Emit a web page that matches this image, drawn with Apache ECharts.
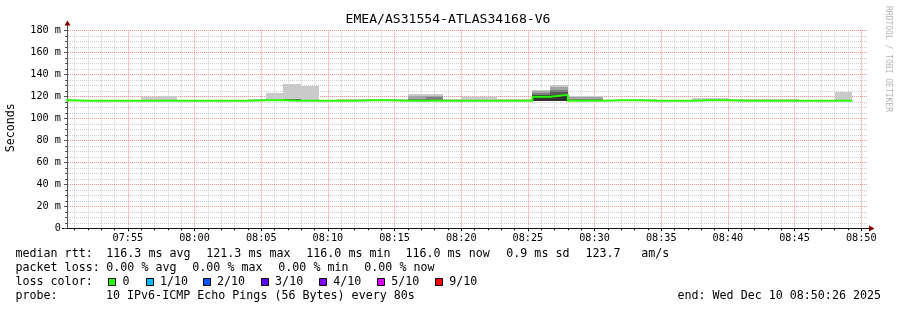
<!DOCTYPE html>
<html><head><meta charset="utf-8">
<script src="https://cdn.jsdelivr.net/npm/echarts@6/dist/echarts.min.js"></script>
<style>html,body{margin:0;padding:0;background:#fff}#c{width:897px;height:310px}</style>
</head><body><div id="c"></div>
<script>
// ---------- data ----------
const chartTitle = 'EMEA/AS31554-ATLAS34168-V6';
const yTicks = [0, 20, 40, 60, 80, 100, 120, 140, 160, 180];
const yTickLabels = ['0', '20 m', '40 m', '60 m', '80 m', '100 m', '120 m', '140 m', '160 m', '180 m'];
const xTickLabels = ['07:55', '08:00', '08:05', '08:10', '08:15', '08:20', '08:25', '08:30', '08:35', '08:40', '08:45', '08:50'];
const graphStart = '2025-12-10T07:50:26Z';
const graphEnd = '2025-12-10T08:50:26Z';
const firstStepStart = '2025-12-10T07:49:20Z';
const stepSeconds = 80;

// per 80 s step (ms)
const median = [116.5,116.0,116.0,116.0,116.0,116.0,116.0,116.0,116.0,116.0,116.0,116.5,116.5,116.0,116.0,116.0,116.0,116.5,116.5,116.0,116.0,116.0,116.0,116.0,116.0,116.0,116.0,119.5,121.3,116.0,116.0,116.5,116.5,116.0,116.0,116.0,116.5,116.5,116.0,116.0,116.0,116.0,116.0,116.0,116.0];
const pingLow = [115.9,115.9,115.9,115.9,115.9,115.9,115.9,115.9,115.9,115.9,115.9,115.9,115.9,115.9,115.9,115.9,115.9,115.9,115.9,115.9,115.9,115.9,115.9,115.9,115.9,115.9,115.9,115.9,115.9,115.9,115.9,115.9,115.9,115.9,115.9,115.9,115.9,115.9,115.9,115.9,115.9,115.9,115.9,115.9,115.9];
const ping10 = [117.5,116.3,116.3,116.3,116.3,119.1,120.3,116.3,116.3,116.3,116.3,117.8,123.3,131.5,129.4,116.3,117.5,118.0,118.0,117.8,122.4,122.4,117.3,119.4,119.4,117.5,117.5,125.7,130.0,120.3,120.3,116.8,116.8,117.5,116.3,116.3,118.2,118.2,117.5,117.5,117.5,117.5,116.3,116.3,123.9];
const ping9 = [116.1,116.1,116.1,116.1,116.1,116.1,116.1,116.1,116.1,116.1,116.1,116.1,116.1,117.9,116.1,116.1,116.1,116.1,116.1,116.1,120.0,120.5,116.1,117.0,117.0,116.1,116.1,124.5,128.5,119.8,119.8,116.1,116.1,116.1,116.1,116.1,116.1,116.1,116.1,116.1,116.1,116.1,116.1,116.1,116.1];
const ping8 = [116.0,116.0,116.0,116.0,116.0,116.0,116.0,116.0,116.0,116.0,116.0,116.0,116.0,117.8,116.0,116.0,116.0,116.0,116.0,116.0,117.5,119.8,116.0,116.0,116.0,116.0,116.0,122.7,126.0,117.5,117.5,116.0,116.0,116.0,116.0,116.0,116.0,116.0,116.0,116.0,116.0,116.0,116.0,116.0,116.0];
const ping7 = [116.0,116.0,116.0,116.0,116.0,116.0,116.0,116.0,116.0,116.0,116.0,116.0,116.0,117.6,116.0,116.0,116.0,116.0,116.0,116.0,116.0,117.0,116.0,116.0,116.0,116.0,116.0,121.5,123.5,116.0,116.0,116.0,116.0,116.0,116.0,116.0,116.0,116.0,116.0,116.0,116.0,116.0,116.0,116.0,116.0];
const ping6 = [116.0,116.0,116.0,116.0,116.0,116.0,116.0,116.0,116.0,116.0,116.0,116.0,116.0,116.5,116.0,116.0,116.0,116.0,116.0,116.0,116.0,116.0,116.0,116.0,116.0,116.0,116.0,120.9,121.6,116.0,116.0,116.0,116.0,116.0,116.0,116.0,116.0,116.0,116.0,116.0,116.0,116.0,116.0,116.0,116.0];

const smokeColors = ['#cacaca', '#a4a4a4', '#7e7e7e', '#585858', '#323232'];
const lossColor = '#26ff00';

// legend texts
const legendRtt = ['median rtt:', '116.3 ms avg', '121.3 ms max', '116.0 ms min', '116.0 ms now', '0.9 ms sd', '123.7', 'am/s'];
const legendLoss = ['packet loss:', '0.00 % avg', '0.00 % max', '0.00 % min', '0.00 % now'];
const lossLabels = ['0', '1/10', '2/10', '3/10', '4/10', '5/10', '9/10'];
const lossColors = ['#26ff00', '#00b8ff', '#0059ff', '#5e00ff', '#7e00ff', '#dd00ff', '#ff0000'];
const probeText = ['probe:', '10 IPv6-ICMP Echo Pings (56 Bytes) every 80s'];
const endText = 'end: Wed Dec 10 08:50:26 2025';
const unitName = 'Seconds';
const watermark = 'RRDTOOL / TOBI OETIKER';

// ---------- build ----------
const MONO = "'DejaVu Sans Mono', monospace";
const tStart = Date.parse(graphStart), tEnd = Date.parse(graphEnd);
const s0 = Date.parse(firstStepStart);
const stepMs = stepSeconds * 1000;
const day = graphEnd.slice(0, 11);
const majorTimes = xTickLabels.map(l => Date.parse(day + l + ':00Z'));
// minor grid positions: every minute / every 5 ms, majors excluded
const minorTimes = [];
for (let t = Math.ceil(tStart / 60000) * 60000; t <= tEnd; t += 60000) {
  if (t % 300000 !== 0) minorTimes.push(t);
}
const minorY = [];
for (let v = 5; v < 180; v += 5) { if (v % 20 !== 0) minorY.push(v); }

const smokeData = median.map((m, i) => [s0 + i * stepMs, s0 + (i + 1) * stepMs, pingLow[i], ping10[i], ping9[i], ping8[i], ping7[i], ping6[i]]);
const medianData = median.map((m, i) => [s0 + i * stepMs, m]);
medianData.push([s0 + median.length * stepMs, median[median.length - 1]]);

// horizontal grid rows: [value, isMajor]
const gridRows = minorY.map(v => [v, 0]).concat(yTicks.filter(v => v > 0).map(v => [v, 1]));

const G = { left: 67, right: 30, top: 30.3, bottom: 81.7 };
const plotRight = 897 - G.right;

const majorColor = 'rgb(255,140,140)';
const minorColor = 'rgb(205,205,205)';

const graphics = [];
function txt(x, y, s, extra) {
  graphics.push({ type: 'text', x: x, y: y, silent: true,
    style: Object.assign({ text: s, font: '11.67px ' + MONO, fill: '#000', textVerticalAlign: 'middle', textAlign: 'left' }, extra || {}) });
}
txt(448, 20, chartTitle, { font: '13.1px ' + MONO, textAlign: 'center' });
const rttX = [15.5, 106.3, 206.3, 306.3, 405.5, 506.3, 585.5, 641.3];
legendRtt.forEach((s, i) => txt(rttX[i], 254.3, s));
const lossX = [15.5, 106.3, 192.3, 278.3, 364.3];
legendLoss.forEach((s, i) => txt(lossX[i], 268.3, s));
txt(15.5, 281.7, 'loss color:');
const boxX = [108.3, 145.7, 202.7, 260.8, 318.9, 376.9, 435.0];
lossLabels.forEach((s, i) => {
  graphics.push({ type: 'rect', silent: true, shape: { x: Math.round(boxX[i]) + 0.5, y: 278.5, width: 7, height: 7 },
    style: { fill: lossColors[i], stroke: '#000', lineWidth: 1 } });
  txt(boxX[i] + 14.3, 281.7, s);
});
txt(15.5, 295.7, probeText[0]);
txt(106.0, 295.7, probeText[1]);
txt(881, 295.7, endText, { textAlign: 'right' });
graphics.push({ type: 'text', x: 11, y: 127.7, rotation: Math.PI / 2, silent: true,
  style: { text: unitName, font: '11.67px ' + MONO, fill: '#000', textAlign: 'center', textVerticalAlign: 'middle' } });
graphics.push({ type: 'text', x: 888, y: 59, rotation: -Math.PI / 2, silent: true,
  style: { text: watermark, font: '8px ' + MONO, fill: '#b4b4b4', textAlign: 'center', textVerticalAlign: 'middle' } });
graphics.push({ type: 'line', silent: true, shape: { x1: 67.5, y1: G.top, x2: 67.5, y2: 24 }, style: { stroke: '#555', lineWidth: 1 } });
graphics.push({ type: 'polygon', silent: true, shape: { points: [[64.5, 25.5], [70.5, 25.5], [67.5, 20.5]] }, style: { fill: '#800000' } });
graphics.push({ type: 'line', silent: true, shape: { x1: 62, y1: 228.5, x2: 67, y2: 228.5 }, style: { stroke: '#111', lineWidth: 1 } });
graphics.push({ type: 'line', silent: true, shape: { x1: plotRight, y1: 228.5, x2: 870, y2: 228.5 }, style: { stroke: '#111', lineWidth: 1 } });
graphics.push({ type: 'polygon', silent: true, shape: { points: [[869, 225.5], [869, 231.5], [874.5, 228.5]] }, style: { fill: '#800000' } });

const chart = echarts.init(document.getElementById('c'));
chart.setOption({
  animation: false,
  backgroundColor: '#ffffff',
  grid: { left: G.left, right: G.right, top: G.top, bottom: G.bottom, containLabel: false },
  xAxis: [
    {
      type: 'value', min: tStart, max: tEnd, z: 1,
      axisLine: { show: true, onZero: false, lineStyle: { color: '#111', width: 1 } },
      axisTick: { show: true, length: 3, customValues: majorTimes, lineStyle: { color: '#111' } },
      axisLabel: {
        customValues: majorTimes,
        formatter: v => { const k = majorTimes.indexOf(v); return k >= 0 ? xTickLabels[k] : ''; },
        fontFamily: MONO, fontSize: 10.2, color: '#000', margin: 5, hideOverlap: false,
        showMinLabel: true, showMaxLabel: true
      },
      splitLine: { show: true, lineStyle: { color: majorColor, type: [1, 1], width: 1 } },
      minorTick: { show: false }, minorSplitLine: { show: false }
    },
    {
      type: 'value', min: tStart, max: tEnd, position: 'bottom', z: 0,
      axisLine: { show: false, onZero: false },
      axisTick: { show: true, length: 2, customValues: minorTimes, lineStyle: { color: '#111' } },
      axisLabel: { show: false, customValues: minorTimes },
      splitLine: { show: true, lineStyle: { color: minorColor, type: [1, 1], width: 1 } },
      minorTick: { show: false }, minorSplitLine: { show: false }
    }
  ],
  yAxis: {
    type: 'value', min: 0, max: 180, interval: 20, z: 1,
    axisLine: { show: true, onZero: false, lineStyle: { color: '#555', width: 1 } },
    axisTick: { show: true, length: 3, lineStyle: { color: '#555' } },
    minorTick: { show: false },
    axisLabel: {
      formatter: v => { const k = yTicks.indexOf(v); return k >= 0 ? yTickLabels[k] : ''; },
      fontFamily: MONO, fontSize: 10.2, color: '#000', margin: 6
    },
    splitLine: { show: false },
    minorSplitLine: { show: false }
  },
  series: [
    {
      type: 'custom', name: 'grid rows', data: gridRows, silent: true,
      encode: { y: 0 }, z: 0,
      renderItem: (params, api) => {
        const cs = params.coordSys;
        const major = api.value(1) === 1;
        const y = Math.round(api.coord([tStart, api.value(0)])[1]) + 0.5;
        const children = [
          { type: 'line', shape: { x1: cs.x + 1, y1: y, x2: cs.x + cs.width, y2: y },
            style: { stroke: major ? majorColor : minorColor, lineWidth: 1, lineDash: [1, 1] }, z2: major ? 2 : 1 }
        ];
        if (!major) children.push({ type: 'line', shape: { x1: cs.x - 2, y1: y, x2: cs.x, y2: y }, style: { stroke: '#555', lineWidth: 1 } });
        return { type: 'group', children: children };
      }
    },
    {
      type: 'custom', name: 'smoke', data: smokeData,
      encode: { x: [0, 1], y: [2, 3] },
      renderItem: (params, api) => {
        const cs = params.coordSys;
        const t0 = api.value(0), t1 = api.value(1), lo = api.value(2);
        const children = [];
        for (let k = 0; k < 5; k++) {
          const hi = api.value(3 + k);
          if (!(hi > lo)) continue;
          const a = api.coord([t0, hi]), b = api.coord([t1, lo]);
          const x0 = Math.round(Math.max(a[0], cs.x)), x1 = Math.round(Math.min(b[0], cs.x + cs.width));
          const y0 = Math.round(a[1]), y1 = Math.round(b[1]);
          if (x1 <= x0 || y1 <= y0) continue;
          children.push({ type: 'rect', shape: { x: x0, y: y0, width: x1 - x0, height: y1 - y0 }, style: { fill: smokeColors[k] } });
        }
        return { type: 'group', children: children };
      },
      z: 2
    },
    {
      type: 'line', name: 'median rtt', data: medianData, step: 'end',
      showSymbol: false, symbol: 'none', clip: true,
      lineStyle: { color: lossColor, width: 2 }, itemStyle: { color: lossColor },
      z: 3
    }
  ],
  graphic: graphics
});
</script>
</body></html>
